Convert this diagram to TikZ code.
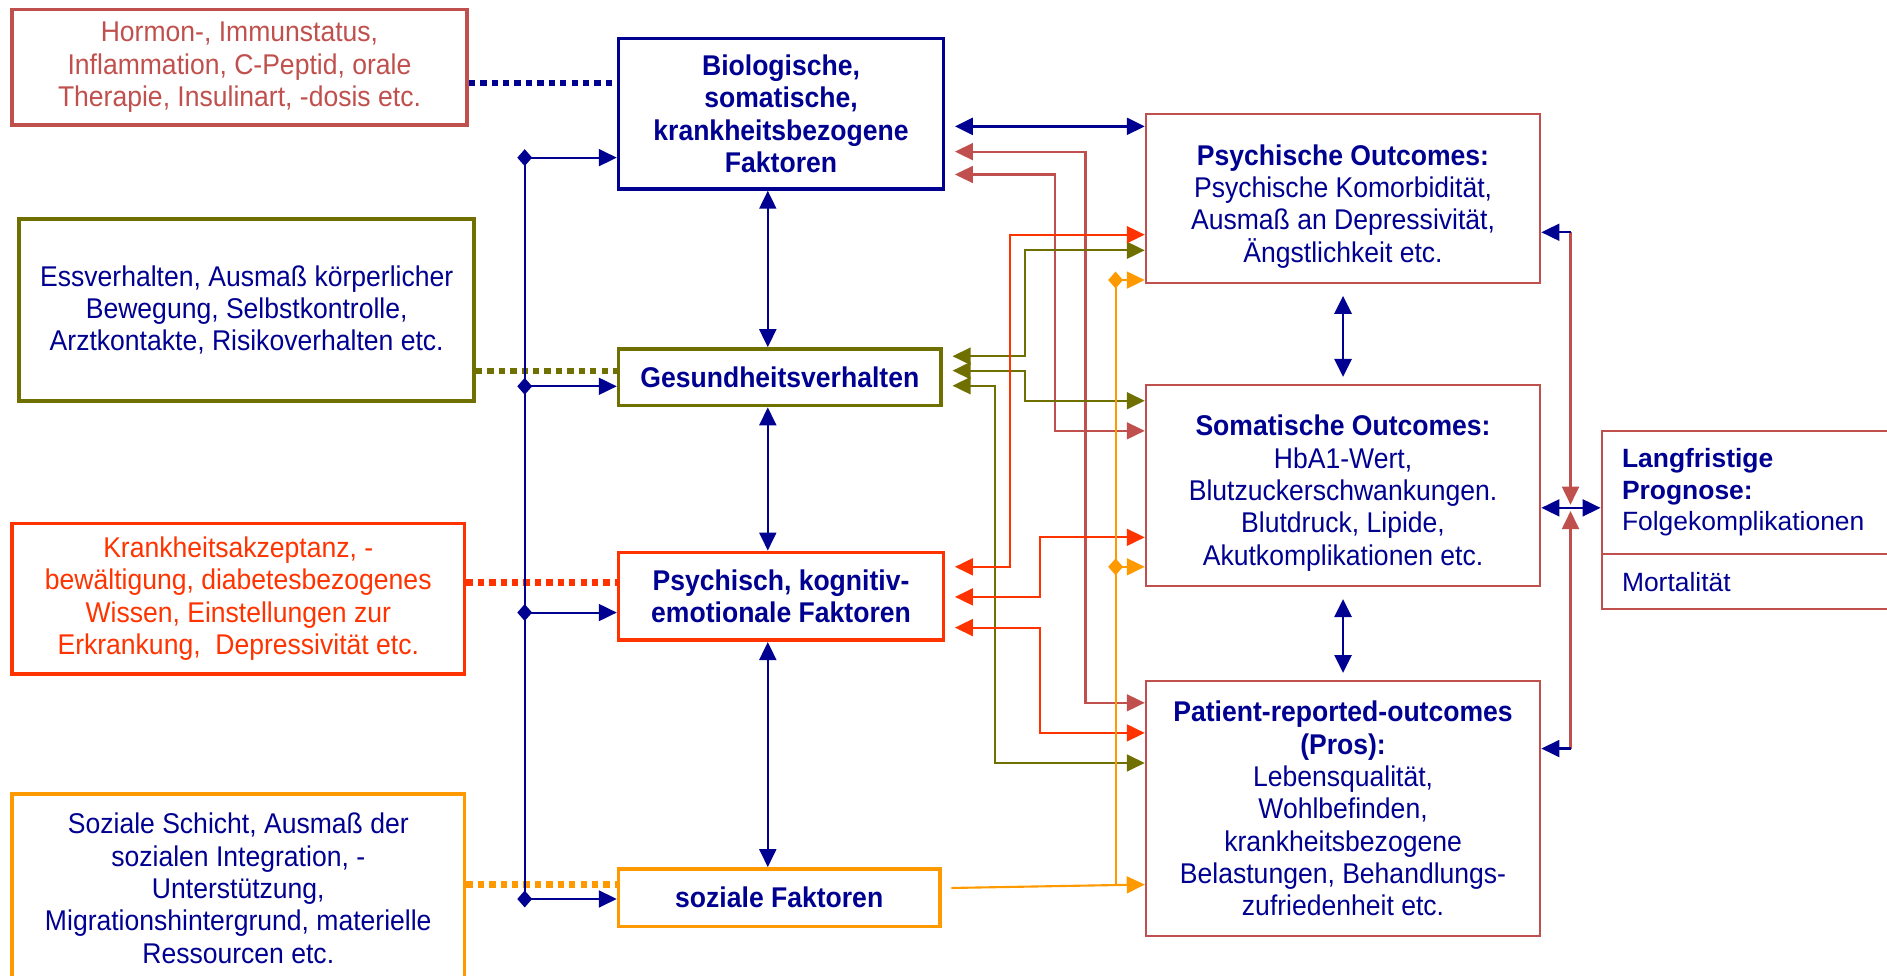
\documentclass[tikz,border=0pt]{standalone}
\usepackage{fontspec}
\setmainfont{Liberation Sans}
\newfontfamily\narrowsf[FakeStretch=0.93]{Liberation Sans}
\usetikzlibrary{arrows.meta,shapes.multipart}

\definecolor{navy}{RGB}{0,0,145}
\definecolor{rosered}{RGB}{192,80,77}
\definecolor{behOlive}{RGB}{112,112,0}
\definecolor{psyred}{RGB}{255,51,0}
\definecolor{socorange}{RGB}{255,153,0}

\newcommand{\pxu}{0.02cm}
\newcommand{\boxfont}{\narrowsf\fontsize{13.5pt}{15.3pt}\selectfont}

\begin{document}
\begin{tikzpicture}[x=0.02cm, y=-0.02cm,
		>={Triangle[length=8.5pt,width=8pt]},
		every node/.style={inner sep=0pt, align=center},
		infobox/.style={draw, line width=1.7pt, font=\boxfont},
		factorbox/.style={draw, line width=1.7pt, text=navy, font=\boxfont\bfseries},
		outcomebox/.style={draw=rosered, line width=0.9pt, text=navy, font=\boxfont, minimum width=328*\pxu},
		arrowline/.style={line width=1pt},
		dotline/.style={line width=2.9pt, dash pattern=on 3pt off 2.4pt},
		gap/.style={shorten <=0.16cm},
		fork/.style={{Diamond[length=7pt,width=8pt]}->, shorten <=-3.5pt}]
		
		\path[use as bounding box, clip] (0,0) rectangle (1568,811);
		
		% influencing factors, left
		\node[infobox, draw=rosered, text=rosered, minimum width=378*\pxu, minimum height=96*\pxu] (hormon) at (199,56) {Hormon-, Immunstatus,\\Inflammation, C-Peptid, orale\\Therapie, Insulinart, -dosis etc.};
		\node[infobox, draw=behOlive, text=navy, minimum width=378*\pxu, minimum height=151*\pxu] (verhalten) at (205,257.5) {Essverhalten, Ausmaß körperlicher\\Bewegung, Selbstkontrolle,\\Arztkontakte, Risikoverhalten etc.};
		\node[infobox, draw=psyred, text=psyred, minimum width=376*\pxu, minimum height=125*\pxu] (akzeptanz) at (198,497.5) {Krankheitsakzeptanz, -\\bewältigung, diabetesbezogenes\\Wissen, Einstellungen zur\\Erkrankung,\ \ Depressivität etc.};
		\node[infobox, draw=socorange, text=navy, minimum width=376*\pxu, minimum height=156*\pxu] (schicht) at (198,738) {Soziale Schicht, Ausmaß der\\sozialen Integration, -\\Unterstützung,\\Migrationshintergrund, materielle\\Ressourcen etc.};
		
		% factor groups
		\node[factorbox, draw=navy, minimum width=270*\pxu, minimum height=125*\pxu] (bio) at (649,94.5) {Biologische,\\somatische,\\krankheitsbezogene\\Faktoren};
		\node[factorbox, draw=behOlive, minimum width=268*\pxu, minimum height=47*\pxu] (ges) at (648,313.5) {Gesundheitsverhalten};
		\node[factorbox, draw=psyred, minimum width=270*\pxu, minimum height=73*\pxu] (psy) at (649,495.5) {Psychisch, kognitiv-\\emotionale Faktoren};
		\node[factorbox, draw=socorange, minimum width=267*\pxu, minimum height=48*\pxu] (soz) at (647.5,746) {soziale Faktoren};
		
		% outcomes
		\node[outcomebox, minimum height=140*\pxu] (psyout) at (1116,165) {\rule{0pt}{17pt}\textbf{Psychische Outcomes:}\\Psychische Komorbidität,\\Ausmaß an Depressivität,\\Ängstlichkeit etc.};
		\node[outcomebox, minimum height=167*\pxu] (somout) at (1116,403.5) {\rule{0pt}{17pt}\textbf{Somatische Outcomes:}\\HbA1-Wert,\\Blutzuckerschwankungen.\\Blutdruck, Lipide,\\Akutkomplikationen etc.};
		\node[outcomebox, minimum height=212*\pxu] (pros) at (1116,672) {\textbf{Patient-reported-outcomes}\\\textbf{(Pros):}\\Lebensqualität,\\Wohlbefinden,\\krankheitsbezogene\\Belastungen, Behandlungs-\\zufriedenheit etc.};
		\node[draw=rosered, line width=0.9pt, rectangle split, rectangle split parts=2, text width=226*\pxu, align=left, inner xsep=17*\pxu, inner ysep=14*\pxu, anchor=north west, text=navy, font=\fontsize{12.5pt}{15pt}\selectfont] (prognose) at (1330,357) {\textbf{Langfristige}\\\textbf{Prognose:}\\Folgekomplikationen\nodepart{two}Mortalität};
		
		% dotted links
		\draw[dotline, navy] (hormon.east |- 0,69) -- (bio.west |- 0,69);
		\draw[dotline, behOlive] (verhalten.east |- 0,308) -- (ges.west |- 0,308);
		\draw[dotline, psyred] (akzeptanz.east |- 0,484) -- (psy.west |- 0,484);
		\draw[dotline, socorange] (schicht.east |- 0,735) -- (soz.west |- 0,735);
		
		% bus on the left
		\coordinate (bus1) at (436,131);
		\coordinate (bus2) at (436,321);
		\coordinate (bus3) at (436,509);
		\coordinate (bus4) at (436,747);
		\draw[arrowline, navy] (bus1) -- (bus4);
		\foreach \b/\t in {bus1/bio, bus2/ges, bus3/psy, bus4/soz}
			\draw[arrowline, navy, fork] (\b) -- (\t.west |- \b);
		
		\draw[arrowline, navy, <->] (bio.south -| 638,0) -- (ges.north -| 638,0);
		\draw[arrowline, navy, <->] (ges.south -| 638,0) -- (psy.north -| 638,0);
		\draw[arrowline, navy, <->] (psy.south -| 638,0) -- (soz.north -| 638,0);
		\draw[line width=1.3pt, navy, <->, shorten <=10*\pxu, shorten >=6*\pxu] (psyout.south) -- (somout.north);
		\draw[line width=1.3pt, navy, <->, shorten <=10*\pxu, shorten >=6*\pxu] (somout.south) -- (pros.north);
		
		% factors to outcomes
		\draw[line width=1.3pt, navy, <->, gap] (bio.east |- 0,105) -- (psyout.west |- 0,105);
		\draw[arrowline, rosered, <->, gap] (bio.east |- 0,126) -- (902,126) -- (902,584) -- (pros.west |- 0,584);
		\draw[arrowline, rosered, <->, gap] (bio.east |- 0,145) -- (877,145) -- (877,358) -- (somout.west |- 0,358);
		
		\draw[arrowline, behOlive, <->, gap] (ges.east |- 0,296) -- (852,296) -- (852,208) -- (psyout.west |- 0,208);
		\draw[arrowline, behOlive, <->, gap] (ges.east |- 0,308) -- (852,308) -- (852,333) -- (somout.west |- 0,333);
		\draw[arrowline, behOlive, <->, gap] (ges.east |- 0,320.5) -- (827,320.5) -- (827,634) -- (pros.west |- 0,634);
		
		\draw[arrowline, psyred, <->, gap] (psy.east |- 0,471) -- (839,471) -- (839,195) -- (psyout.west |- 0,195);
		\draw[arrowline, psyred, <->, gap] (psy.east |- 0,496) -- (864,496) -- (864,446.5) -- (somout.west |- 0,446.5);
		\draw[arrowline, psyred, <->, gap] (psy.east |- 0,521.5) -- (864,521.5) -- (864,609) -- (pros.west |- 0,609);
		
		\coordinate (sozjoin) at (927,735.5);
		\coordinate (sozfork1) at (927,471);
		\coordinate (sozfork2) at (927,232.7);
		\draw[arrowline, socorange, ->, gap] (soz.east |- 0,738) -- (pros.west |- 0,735);
		\draw[arrowline, socorange] (sozjoin) -- (sozfork2);
		\draw[arrowline, socorange, fork] (sozfork1) -- (somout.west |- sozfork1);
		\draw[arrowline, socorange, fork] (sozfork2) -- (psyout.west |- sozfork2);
		
		% long-term prognosis
		\coordinate (ptop) at (1305,193);
		\coordinate (pbot) at (1305,622);
		\coordinate (pmid) at (1305,422);
		\draw[arrowline, rosered, ->, shorten >=1.5pt] (ptop) -- (pmid);
		\draw[arrowline, rosered, ->, shorten >=1.5pt] (pbot) -- (pmid);
		\draw[arrowline, navy, ->] (ptop) -- (psyout.east |- ptop);
		\draw[arrowline, navy, ->] (pbot) -- (pros.east |- pbot);
		\draw[arrowline, navy, <->] (somout.east |- pmid) -- (prognose.west |- pmid);
\end{tikzpicture}
\end{document}
